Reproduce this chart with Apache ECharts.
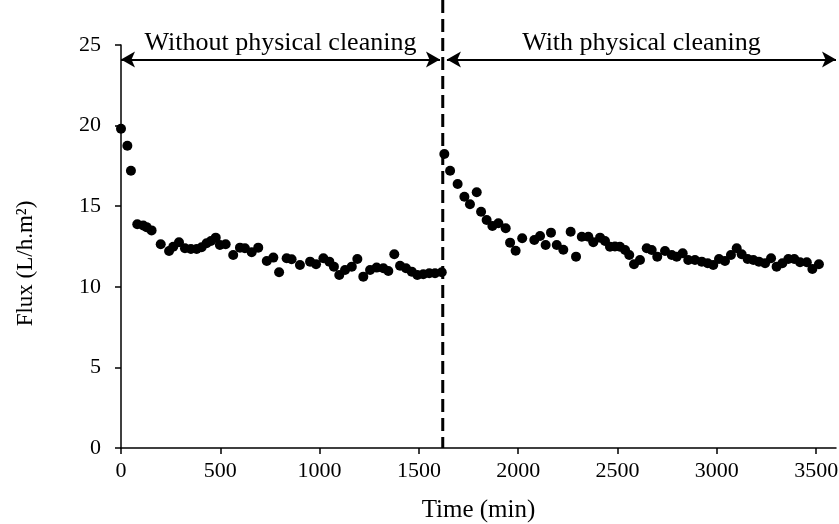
<!DOCTYPE html>
<html>
<head>
<meta charset="utf-8">
<title>Flux vs time</title>
<script src="https://cdn.jsdelivr.net/npm/echarts@6/dist/echarts.min.js"></script>
<style>
  html, body { margin: 0; padding: 0; background: #fff; }
  #chart { width: 839px; height: 524px; }
</style>
</head>
<body>
<div id="chart"></div>
<script>
// Permeate flux (L/h.m²) against filtration time (min)
const timeMin = [
  0, 32, 50, 82, 112, 129, 154, 200, 242, 263, 292, 322, 352, 381, 406, 431, 453, 477, 498, 527,
  565, 599, 624, 658, 691, 734, 767, 796, 834, 859, 901, 952, 982, 1019, 1049, 1072, 1099, 1128,
  1162, 1190, 1220, 1254, 1287, 1321, 1346, 1376, 1405, 1435, 1464, 1492, 1522, 1552, 1581, 1615,
  1628, 1657, 1695, 1729, 1757, 1791, 1813, 1841, 1870, 1900, 1937, 1959, 1987, 2020, 2081, 2110,
  2138, 2165, 2194, 2227, 2264, 2291, 2320, 2353, 2378, 2412, 2437, 2462, 2487, 2512, 2538, 2559,
  2583, 2613, 2647, 2672, 2700, 2739, 2773, 2798, 2828, 2856, 2890, 2924, 2954, 2982, 3011, 3041,
  3071, 3100, 3125, 3155, 3184, 3212, 3243, 3273, 3301, 3330, 3360, 3390, 3419, 3453, 3481, 3514
];
const flux = [
  19.8, 18.75, 17.2, 13.88, 13.8, 13.7, 13.5, 12.64, 12.22, 12.49, 12.76, 12.39, 12.34, 12.34, 12.45, 12.7, 12.84, 13.05, 12.59, 12.64,
  11.97, 12.43, 12.39, 12.14, 12.43, 11.6, 11.81, 10.9, 11.77, 11.71, 11.35, 11.56, 11.4, 11.77, 11.56, 11.25, 10.73, 11.04,
  11.25, 11.72, 10.63, 11.04, 11.19, 11.15, 10.98, 12.02, 11.31, 11.15, 10.94, 10.73, 10.78, 10.84, 10.84, 10.9,
  18.24, 17.2, 16.38, 15.59, 15.12, 15.86, 14.66, 14.14, 13.77, 13.94, 13.63, 12.74, 12.24, 13.01, 12.9, 13.15,
  12.59, 13.36, 12.59, 12.3, 13.42, 11.87, 13.11, 13.11, 12.76, 13.05, 12.84, 12.49, 12.5, 12.49, 12.28, 11.97,
  11.4, 11.66, 12.39, 12.28, 11.87, 12.22, 11.97, 11.87, 12.08, 11.66, 11.66, 11.56, 11.46, 11.35, 11.72, 11.6,
  11.97, 12.39, 12.02, 11.72, 11.66, 11.56, 11.46, 11.77, 11.25, 11.46, 11.72, 11.72, 11.52, 11.52, 11.1, 11.4
];
const xTicks = [0, 500, 1000, 1500, 2000, 2500, 3000, 3500];
const yTicks = [0, 5, 10, 15, 20, 25];

// Phase annotations
const splitTime = 1620;          // physical cleaning starts here
const phaseArrowLevel = 24.1;
const phaseWithout = { label: 'Without physical cleaning', from: 0, to: 1606 };
const phaseWith = { label: 'With physical cleaning', from: 1641, to: 3600 };

const FONT = '"Liberation Serif", "Times New Roman", serif';
const points = timeMin.map((t, i) => [t, flux[i]]);

const chart = echarts.init(document.getElementById('chart'), null, { renderer: 'canvas' });

const arrowLine = (phase) => [
  { coord: [phase.from, phaseArrowLevel], name: phase.label },
  { coord: [phase.to, phaseArrowLevel] }
];

chart.setOption({
  animation: false,
  backgroundColor: '#fff',
  grid: { left: 121, right: 3, top: 45, bottom: 76, containLabel: false, outerBoundsMode: 'none' },
  xAxis: {
    type: 'value',
    min: 0,
    max: 3600,
    interval: 500,
    name: 'Time (min)',
    nameLocation: 'middle',
    nameGap: 50,
    nameTextStyle: { fontFamily: FONT, fontSize: 25, color: '#000' },
    axisLine: { lineStyle: { color: '#000', width: 1.5 } },
    axisTick: { show: true, length: 6, customValues: xTicks, lineStyle: { color: '#000', width: 1.5 } },
    axisLabel: {
      customValues: xTicks, fontFamily: FONT, fontSize: 22, color: '#000', margin: 12,
      formatter: (v) => String(v)
    },
    splitLine: { show: false }
  },
  yAxis: {
    type: 'value',
    min: 0,
    max: 25,
    interval: 5,
    name: 'Flux (L/h.m²)',
    nameLocation: 'middle',
    nameGap: 84,
    nameTextStyle: { fontFamily: FONT, fontSize: 23, color: '#000', padding: [0, 34, 0, 0] },
    axisLine: { show: true, lineStyle: { color: '#000', width: 1.5 } },
    axisTick: { show: true, length: 6, customValues: yTicks, lineStyle: { color: '#000', width: 1.5 } },
    axisLabel: {
      customValues: yTicks, fontFamily: FONT, fontSize: 22, color: '#000', margin: 20,
      formatter: (v) => String(v)
    },
    splitLine: { show: false }
  },
  series: [
    {
      type: 'scatter',
      data: points,
      symbol: 'circle',
      symbolSize: 10,
      itemStyle: { color: '#000', opacity: 1 },
      clip: false,
      markLine: {
        silent: true,
        symbol: ['arrow', 'arrow'],
        symbolSize: [12, 14],
        lineStyle: { color: '#000', width: 2, type: 'solid' },
        label: {
          show: true,
          position: 'middle',
          formatter: '{b}',
          fontFamily: FONT,
          fontSize: 26,
          color: '#000',
          distance: 3
        },
        data: [arrowLine(phaseWithout), arrowLine(phaseWith)]
      }
    },
    {
      // dashed divider between the two phases, running up past the plot top
      type: 'custom',
      data: [[splitTime, 0]],
      encode: { x: 0, y: 1 },
      silent: true,
      z: 5,
      renderItem: (params, api) => {
        const base = api.coord([api.value(0), api.value(1)]);
        return {
          type: 'line',
          shape: { x1: base[0], y1: 0, x2: base[0], y2: base[1] },
          style: { stroke: '#000', lineWidth: 3, lineDash: [13, 6] }
        };
      }
    }
  ]
});
</script>
</body>
</html>
